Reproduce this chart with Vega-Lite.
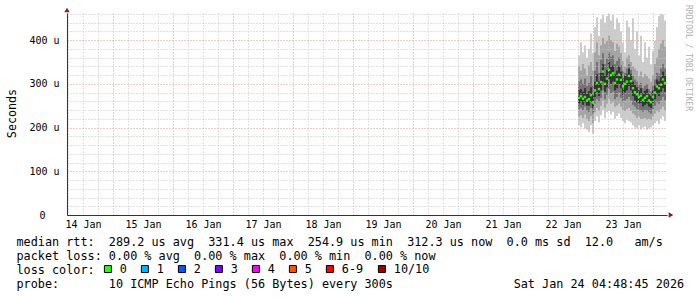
{
  "$schema": "https://vega.github.io/schema/vega-lite/v6.json",
  "width": 600,
  "height": 202,
  "autosize": "none",
  "padding": {"left": 67, "top": 13, "right": 30, "bottom": 82},
  "background": "#ffffff",
  "config": {"view": {"stroke": null}},
  "title": {
    "text": "RRDTOOL / TOBI OETIKER",
    "orient": "right", "anchor": "start", "angle": 90, "offset": 0, "frame": "group", "dx": -8,
    "font": "DejaVu Sans Mono", "fontSize": 8, "fontWeight": "normal", "color": "#b0b0b0"
  },
  "data": {"values": [
    {"t": "2026-01-22T18:24:00Z", "loss": "0", "med": 268, "lo1": 205, "hi1": 365, "lo2": 225, "hi2": 340, "lo3": 242, "hi3": 305, "lo4": 255, "hi4": 285},
    {"t": "2026-01-22T19:12:00Z", "loss": "0", "med": 272, "lo1": 200, "hi1": 395, "lo2": 228, "hi2": 330, "lo3": 245, "hi3": 310, "lo4": 258, "hi4": 288},
    {"t": "2026-01-22T20:00:00Z", "loss": "0", "med": 266, "lo1": 210, "hi1": 372, "lo2": 222, "hi2": 345, "lo3": 240, "hi3": 300, "lo4": 252, "hi4": 282},
    {"t": "2026-01-22T20:48:00Z", "loss": "0", "med": 270, "lo1": 198, "hi1": 388, "lo2": 230, "hi2": 335, "lo3": 248, "hi3": 312, "lo4": 258, "hi4": 290},
    {"t": "2026-01-22T21:36:00Z", "loss": "0", "med": 262, "lo1": 195, "hi1": 360, "lo2": 220, "hi2": 320, "lo3": 238, "hi3": 295, "lo4": 250, "hi4": 278},
    {"t": "2026-01-22T22:24:00Z", "loss": "0", "med": 265, "lo1": 190, "hi1": 380, "lo2": 215, "hi2": 342, "lo3": 236, "hi3": 302, "lo4": 250, "hi4": 283},
    {"t": "2026-01-22T23:12:00Z", "loss": "0", "med": 274, "lo1": 205, "hi1": 415, "lo2": 226, "hi2": 350, "lo3": 245, "hi3": 318, "lo4": 260, "hi4": 292},
    {"t": "2026-01-23T00:00:00Z", "loss": "0", "med": 257, "lo1": 186, "hi1": 370, "lo2": 210, "hi2": 330, "lo3": 232, "hi3": 296, "lo4": 245, "hi4": 275},
    {"t": "2026-01-23T00:48:00Z", "loss": "0", "med": 285, "lo1": 215, "hi1": 430, "lo2": 235, "hi2": 372, "lo3": 255, "hi3": 330, "lo4": 270, "hi4": 305},
    {"t": "2026-01-23T01:36:00Z", "loss": "0", "med": 302, "lo1": 225, "hi1": 452, "lo2": 245, "hi2": 395, "lo3": 265, "hi3": 350, "lo4": 282, "hi4": 322},
    {"t": "2026-01-23T02:24:00Z", "loss": "0", "med": 288, "lo1": 212, "hi1": 410, "lo2": 238, "hi2": 365, "lo3": 258, "hi3": 325, "lo4": 272, "hi4": 306},
    {"t": "2026-01-23T03:12:00Z", "loss": "0", "med": 304, "lo1": 228, "hi1": 448, "lo2": 250, "hi2": 388, "lo3": 268, "hi3": 355, "lo4": 285, "hi4": 325},
    {"t": "2026-01-23T04:00:00Z", "loss": "0", "med": 328, "lo1": 240, "hi1": 458, "lo2": 262, "hi2": 405, "lo3": 285, "hi3": 370, "lo4": 305, "hi4": 345},
    {"t": "2026-01-23T04:48:00Z", "loss": "0", "med": 300, "lo1": 222, "hi1": 440, "lo2": 245, "hi2": 392, "lo3": 265, "hi3": 345, "lo4": 282, "hi4": 320},
    {"t": "2026-01-23T05:36:00Z", "loss": "0", "med": 312, "lo1": 235, "hi1": 455, "lo2": 255, "hi2": 398, "lo3": 275, "hi3": 358, "lo4": 292, "hi4": 332},
    {"t": "2026-01-23T06:24:00Z", "loss": "0", "med": 332, "lo1": 238, "hi1": 460, "lo2": 265, "hi2": 410, "lo3": 288, "hi3": 372, "lo4": 310, "hi4": 350},
    {"t": "2026-01-23T07:12:00Z", "loss": "0", "med": 320, "lo1": 230, "hi1": 445, "lo2": 255, "hi2": 400, "lo3": 278, "hi3": 362, "lo4": 300, "hi4": 340},
    {"t": "2026-01-23T08:00:00Z", "loss": "0", "med": 324, "lo1": 236, "hi1": 458, "lo2": 258, "hi2": 395, "lo3": 282, "hi3": 365, "lo4": 305, "hi4": 342},
    {"t": "2026-01-23T08:48:00Z", "loss": "0", "med": 302, "lo1": 220, "hi1": 425, "lo2": 248, "hi2": 375, "lo3": 265, "hi3": 345, "lo4": 285, "hi4": 322},
    {"t": "2026-01-23T09:36:00Z", "loss": "0", "med": 310, "lo1": 226, "hi1": 450, "lo2": 250, "hi2": 392, "lo3": 270, "hi3": 352, "lo4": 290, "hi4": 330},
    {"t": "2026-01-23T10:24:00Z", "loss": "0", "med": 321, "lo1": 232, "hi1": 440, "lo2": 255, "hi2": 385, "lo3": 280, "hi3": 360, "lo4": 300, "hi4": 340},
    {"t": "2026-01-23T11:12:00Z", "loss": "0", "med": 309, "lo1": 222, "hi1": 420, "lo2": 248, "hi2": 370, "lo3": 268, "hi3": 342, "lo4": 290, "hi4": 328},
    {"t": "2026-01-23T12:00:00Z", "loss": "0", "med": 294, "lo1": 215, "hi1": 395, "lo2": 240, "hi2": 352, "lo3": 258, "hi3": 330, "lo4": 275, "hi4": 312},
    {"t": "2026-01-23T12:48:00Z", "loss": "0", "med": 300, "lo1": 210, "hi1": 372, "lo2": 238, "hi2": 340, "lo3": 262, "hi3": 325, "lo4": 280, "hi4": 318},
    {"t": "2026-01-23T13:36:00Z", "loss": "0", "med": 305, "lo1": 218, "hi1": 445, "lo2": 242, "hi2": 360, "lo3": 265, "hi3": 335, "lo4": 285, "hi4": 322},
    {"t": "2026-01-23T14:24:00Z", "loss": "0", "med": 318, "lo1": 215, "hi1": 430, "lo2": 245, "hi2": 365, "lo3": 270, "hi3": 345, "lo4": 295, "hi4": 335},
    {"t": "2026-01-23T15:12:00Z", "loss": "0", "med": 306, "lo1": 212, "hi1": 400, "lo2": 238, "hi2": 350, "lo3": 262, "hi3": 332, "lo4": 285, "hi4": 322},
    {"t": "2026-01-23T16:00:00Z", "loss": "0", "med": 290, "lo1": 205, "hi1": 450, "lo2": 232, "hi2": 340, "lo3": 252, "hi3": 318, "lo4": 272, "hi4": 305},
    {"t": "2026-01-23T16:48:00Z", "loss": "0", "med": 281, "lo1": 200, "hi1": 380, "lo2": 228, "hi2": 335, "lo3": 248, "hi3": 310, "lo4": 262, "hi4": 298},
    {"t": "2026-01-23T17:36:00Z", "loss": "0", "med": 276, "lo1": 198, "hi1": 420, "lo2": 222, "hi2": 330, "lo3": 242, "hi3": 305, "lo4": 258, "hi4": 292},
    {"t": "2026-01-23T18:24:00Z", "loss": "0", "med": 270, "lo1": 205, "hi1": 365, "lo2": 225, "hi2": 318, "lo3": 240, "hi3": 298, "lo4": 255, "hi4": 285},
    {"t": "2026-01-23T19:12:00Z", "loss": "0", "med": 273, "lo1": 196, "hi1": 410, "lo2": 220, "hi2": 328, "lo3": 238, "hi3": 302, "lo4": 256, "hi4": 290},
    {"t": "2026-01-23T20:00:00Z", "loss": "0", "med": 263, "lo1": 200, "hi1": 350, "lo2": 220, "hi2": 315, "lo3": 236, "hi3": 290, "lo4": 248, "hi4": 278},
    {"t": "2026-01-23T20:48:00Z", "loss": "0", "med": 268, "lo1": 202, "hi1": 395, "lo2": 222, "hi2": 322, "lo3": 240, "hi3": 296, "lo4": 252, "hi4": 284},
    {"t": "2026-01-23T21:36:00Z", "loss": "0", "med": 272, "lo1": 195, "hi1": 360, "lo2": 218, "hi2": 318, "lo3": 238, "hi3": 300, "lo4": 255, "hi4": 288},
    {"t": "2026-01-23T22:24:00Z", "loss": "0", "med": 262, "lo1": 198, "hi1": 385, "lo2": 220, "hi2": 312, "lo3": 235, "hi3": 288, "lo4": 248, "hi4": 276},
    {"t": "2026-01-23T23:12:00Z", "loss": "0", "med": 258, "lo1": 200, "hi1": 345, "lo2": 218, "hi2": 305, "lo3": 232, "hi3": 282, "lo4": 245, "hi4": 272},
    {"t": "2026-01-24T00:00:00Z", "loss": "0", "med": 270, "lo1": 205, "hi1": 375, "lo2": 226, "hi2": 320, "lo3": 242, "hi3": 296, "lo4": 256, "hi4": 285},
    {"t": "2026-01-24T00:48:00Z", "loss": "0", "med": 280, "lo1": 210, "hi1": 398, "lo2": 232, "hi2": 345, "lo3": 250, "hi3": 310, "lo4": 265, "hi4": 296},
    {"t": "2026-01-24T01:36:00Z", "loss": "0", "med": 294, "lo1": 215, "hi1": 430, "lo2": 238, "hi2": 360, "lo3": 258, "hi3": 325, "lo4": 278, "hi4": 310},
    {"t": "2026-01-24T02:24:00Z", "loss": "0", "med": 290, "lo1": 208, "hi1": 455, "lo2": 235, "hi2": 380, "lo3": 255, "hi3": 322, "lo4": 272, "hi4": 306},
    {"t": "2026-01-24T03:12:00Z", "loss": "0", "med": 298, "lo1": 220, "hi1": 460, "lo2": 242, "hi2": 392, "lo3": 262, "hi3": 335, "lo4": 282, "hi4": 315},
    {"t": "2026-01-24T04:00:00Z", "loss": "0", "med": 310, "lo1": 225, "hi1": 458, "lo2": 248, "hi2": 400, "lo3": 270, "hi3": 345, "lo4": 290, "hi4": 328},
    {"t": "2026-01-24T04:48:00Z", "loss": "0", "med": 302, "lo1": 215, "hi1": 445, "lo2": 240, "hi2": 385, "lo3": 262, "hi3": 335, "lo4": 282, "hi4": 320}
  ]},
  "layer": [
    {
      "mark": {"type": "rule", "strokeWidth": 2, "color": "#cccccc", "strokeCap": "butt"},
      "encoding": {
        "x": {
          "field": "t", "type": "temporal",
          "scale": {"type": "utc", "nice": false, "domain": [1768369000000, 1769233000000]},
          "axis": {
            "values": [1768370400000, 1768392000000, 1768413600000,
              1768435200000, 1768456800000, 1768478400000, 1768500000000,
              1768521600000, 1768543200000, 1768564800000, 1768586400000,
              1768608000000, 1768629600000, 1768651200000, 1768672800000,
              1768694400000, 1768716000000, 1768737600000, 1768759200000,
              1768780800000, 1768802400000, 1768824000000, 1768845600000,
              1768867200000, 1768888800000, 1768910400000, 1768932000000,
              1768953600000, 1768975200000, 1768996800000, 1769018400000,
              1769040000000, 1769061600000, 1769083200000, 1769104800000,
              1769126400000, 1769148000000, 1769169600000, 1769191200000,
              1769212800000],
            "tickCount": 1000,
            "labelExpr": "utchours(datum.value) == 12 ? utcFormat(datum.value, '%d Jan') : ''",
            "labelOverlap": false, "labelFlush": false, "labelBound": false,
            "labelFont": "DejaVu Sans Mono", "labelFontSize": 10, "labelColor": "#000000",
            "labelPadding": 4,
            "ticks": false,
            "domainColor": "#333333", "domainWidth": 1,
            "grid": true, "gridDash": [1, 2], "gridWidth": 1, "gridOpacity": 1,
            "gridColor": {"condition": {"test": "utchours(datum.value) == 0", "value": "#e09a9a"}, "value": "#c4c4c4"},
            "zindex": 1,
            "title": [
              "median\u00a0rtt:\u00a0\u00a0289.2\u00a0us\u00a0avg\u00a0\u00a0331.4\u00a0us\u00a0max\u00a0\u00a0254.9\u00a0us\u00a0min\u00a0\u00a0312.3\u00a0us\u00a0now\u00a0\u00a00.0\u00a0ms\u00a0sd\u00a0\u00a012.0\u00a0\u00a0\u00a0am/s",
              "packet\u00a0loss:\u00a00.00\u00a0%\u00a0avg\u00a0\u00a00.00\u00a0%\u00a0max\u00a0\u00a00.00\u00a0%\u00a0min\u00a0\u00a00.00\u00a0%\u00a0now",
              "loss\u00a0color:",
              "probe:\u00a0\u00a0\u00a0\u00a0\u00a0\u00a0\u00a010\u00a0ICMP\u00a0Echo\u00a0Pings\u00a0(56\u00a0Bytes)\u00a0every\u00a0300s\u00a0\u00a0\u00a0\u00a0\u00a0\u00a0\u00a0\u00a0\u00a0\u00a0\u00a0\u00a0\u00a0\u00a0\u00a0\u00a0\u00a0Sat\u00a0Jan\u00a024\u00a004:48:45\u00a02026"
            ],
            "titleFont": "DejaVu Sans Mono", "titleFontSize": 11.8, "titleFontWeight": "normal", "titleColor": "#000000",
            "titleAnchor": "start", "titleAlign": "left", "titleBaseline": "alphabetic",
            "titleX": -51, "titleY": 30, "titleLineHeight": 14
          }
        },
        "y": {
          "field": "lo1", "type": "quantitative",
          "scale": {"domain": [0, 462], "nice": false, "zero": true},
          "axis": {
            "values": [0, 20, 40, 60, 80, 100, 120, 140, 160, 180, 200, 220, 240, 260, 280, 300, 320, 340, 360, 380, 400, 420, 440, 460],
            "tickCount": 1000,
            "labelExpr": "datum.value == 0 ? '0\u2800\u2800' : (datum.value % 100 == 0 ? datum.value + ' u' : '')",
            "labelOverlap": false, "labelFlush": false, "labelBound": false,
            "labelFont": "DejaVu Sans Mono", "labelFontSize": 10, "labelColor": "#000000",
            "labelPadding": 8,
            "ticks": false,
            "domainColor": "#333333", "domainWidth": 1,
            "grid": true, "gridDash": [1, 2], "gridWidth": 1, "gridOpacity": 1,
            "gridColor": {"condition": {"test": "datum.value % 100 == 0 && datum.value > 0", "value": "#e09a9a"}, "value": "#c4c4c4"},
            "zindex": 1,
            "title": "Seconds",
            "titleFont": "DejaVu Sans Mono", "titleFontSize": 11.7, "titleFontWeight": "normal", "titleColor": "#000000",
            "titleAngle": -90, "titleAlign": "center", "titleBaseline": "alphabetic",
            "titleX": -52, "titleY": 100
          }
        },
        "y2": {"field": "hi1"}
      }
    },
    {
      "mark": {"type": "rule", "strokeWidth": 2, "color": "#a4a4a4", "strokeCap": "butt"},
      "encoding": {
        "x": {"field": "t", "type": "temporal"},
        "y": {"field": "lo2", "type": "quantitative"},
        "y2": {"field": "hi2"}
      }
    },
    {
      "mark": {"type": "rule", "strokeWidth": 2, "color": "#737373", "strokeCap": "butt"},
      "encoding": {
        "x": {"field": "t", "type": "temporal"},
        "y": {"field": "lo3", "type": "quantitative"},
        "y2": {"field": "hi3"}
      }
    },
    {
      "mark": {"type": "rule", "strokeWidth": 2, "color": "#333333", "strokeCap": "butt"},
      "encoding": {
        "x": {"field": "t", "type": "temporal"},
        "y": {"field": "lo4", "type": "quantitative"},
        "y2": {"field": "hi4"}
      }
    },
    {
      "mark": {"type": "point", "shape": "square", "filled": true, "size": 6, "opacity": 1},
      "encoding": {
        "x": {"field": "t", "type": "temporal"},
        "y": {"field": "med", "type": "quantitative"},
        "color": {
          "field": "loss", "type": "nominal",
          "scale": {
            "domain": ["0", "1", "2", "3", "4", "5", "6-9", "10/10"],
            "range": ["#26ff00", "#00b8ff", "#0059ff", "#7e00ff", "#ff00ff", "#ff5500", "#ff0000", "#a10000"]
          },
          "legend": {
            "title": null,
            "orient": "none", "direction": "horizontal",
            "legendX": 35, "legendY": 250,
            "labelFont": "DejaVu Sans Mono", "labelFontSize": 11.8, "labelColor": "#000000",
            "labelOffset": 6, "columnPadding": 12, "padding": 0,
            "symbolType": "square", "symbolSize": 49, "symbolStrokeColor": "#000000", "symbolStrokeWidth": 1, "symbolOpacity": 1
          }
        }
      }
    },
    {
      "data": {"values": [{"t": "2026-01-14T05:36:40Z", "v": 462}]},
      "mark": {"type": "point", "shape": "triangle-up", "filled": true, "size": 28, "color": "#8b1a1a", "opacity": 1, "yOffset": -3},
      "encoding": {
        "x": {"field": "t", "type": "temporal"},
        "y": {"field": "v", "type": "quantitative"}
      }
    },
    {
      "data": {"values": [{"t": "2026-01-24T05:36:40Z", "v": 0}]},
      "mark": {"type": "point", "shape": "triangle-right", "filled": true, "size": 28, "color": "#8b1a1a", "opacity": 1, "xOffset": 4},
      "encoding": {
        "x": {"field": "t", "type": "temporal"},
        "y": {"field": "v", "type": "quantitative"}
      }
    }
  ]
}
